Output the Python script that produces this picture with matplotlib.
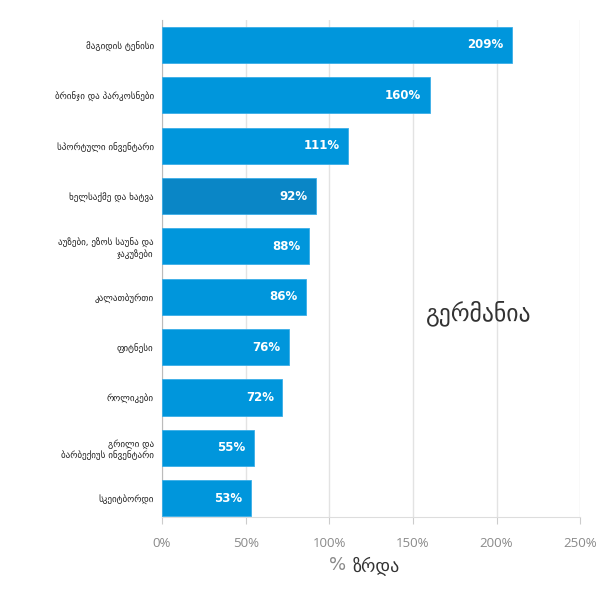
import matplotlib.pyplot as plt

categories = [
    "მაგიდის ტენისი",
    "ბრინჯი და პარკოსნები",
    "სპორტული ინვენტარი",
    "ხელსაქმე და ხატვა",
    "აუზები, ეზოს საუნა და\nჯაკუზები",
    "კალათბურთი",
    "ფიტნესი",
    "როლიკები",
    "გრილი და\nბარბექიუს ინვენტარი",
    "სკეიტბორდი",
]
growth = [209, 160, 111, 92, 88, 86, 76, 72, 55, 53]
highlight = "ხელსაქმე და ხატვა"
x_ticks = [0, 50, 100, 150, 200, 250]

fig = plt.figure(figsize=(6, 6), dpi=100)
ax = fig.add_axes([0.27, 0.138, 0.697, 0.829])

y = list(range(len(categories)))
colors = ["#0A86C6" if c == highlight else "#0096DC" for c in categories]
ax.barh(y, growth, height=0.72, color=colors, edgecolor="#3AAEE8", linewidth=0.6, zorder=3)

# value labels inside the bars
for yi, v in zip(y, growth):
    ax.text(v - 5, yi, f"{v}%", ha="right", va="center", color="white",
            fontsize=8.5, fontweight="bold", family="DejaVu Sans", zorder=4)

ax.set_ylim(len(categories) - 1 + 0.38, -0.5)
ax.set_xlim(0, 250)
ax.set_yticks(y)
ax.set_yticklabels(categories, fontsize=6.5, family="DejaVu Sans", color="#222222")
ax.set_xticks(x_ticks)
ax.set_xticklabels([f"{t}%" for t in x_ticks], fontsize=9.5, color="#8a8a8a", family="Open Sans")
ax.tick_params(axis="y", length=0, pad=6)
ax.tick_params(axis="x", length=5, color="#cccccc", pad=9)

ax.grid(axis="x", color="#e3e3e3", linewidth=1, zorder=0)
for s in ["top", "right"]:
    ax.spines[s].set_visible(False)
ax.spines["left"].set_color("#bbbbbb")
ax.spines["bottom"].set_color("#dddddd")

# axis title: grey percent sign, dark Georgian word
ax.text(0.44, -0.097, "%", transform=ax.transAxes, ha="right", va="center",
        fontsize=13, color="#888888", family="DejaVu Sans")
ax.text(0.455, -0.097, "ზრდა", transform=ax.transAxes, ha="left", va="center",
        fontsize=13, color="#333333", family="DejaVu Sans")

ax.text(0.63, 0.41, "გერმანია", transform=ax.transAxes, ha="left", va="center",
        fontsize=17, color="#333333", family="DejaVu Sans")

fig.savefig("out.png", dpi=100)
